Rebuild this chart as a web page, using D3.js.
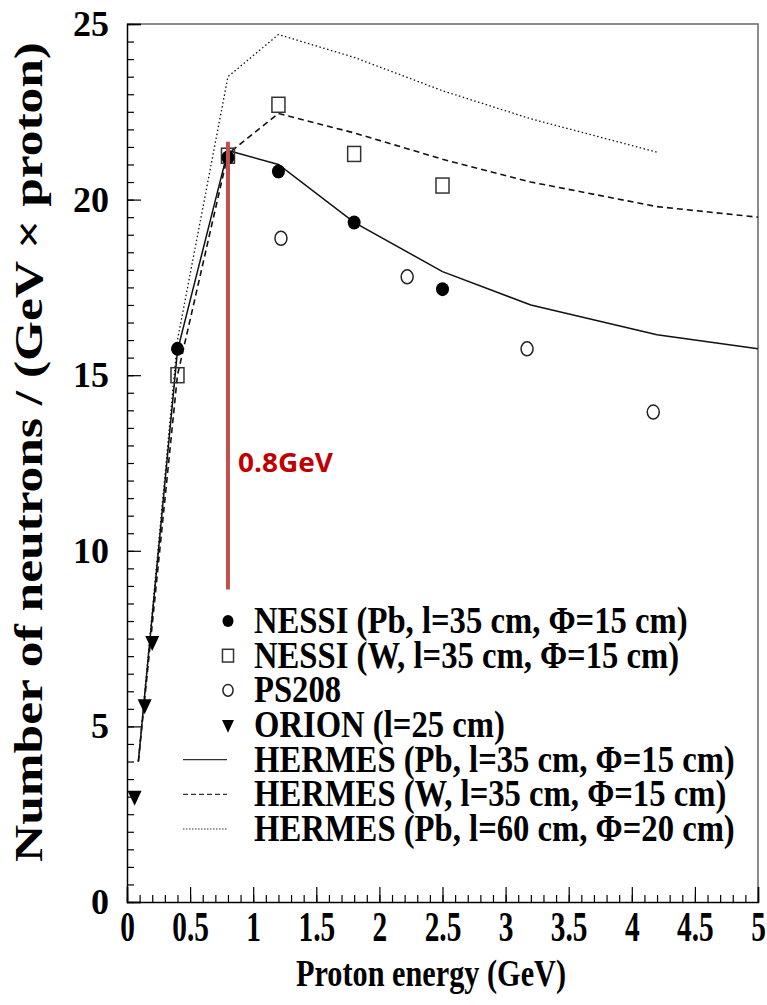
<!DOCTYPE html>
<html>
<head>
<meta charset="utf-8">
<script src="https://cdn.jsdelivr.net/npm/d3@7"></script>
<style>
  body { margin: 0; background: #fff; }
  svg { display: block; }
</style>
</head>
<body>
<svg id="chart" width="767" height="1005"></svg>
<script>
// measured data (GeV, neutrons per GeV per proton)
const nessiPb = [[0.4, 15.75], [0.8, 21.2], [1.2, 20.8], [1.8, 19.35], [2.5, 17.45]];
const nessiW = [[0.4, 15.0], [0.8, 21.25], [1.2, 22.7], [1.8, 21.3], [2.5, 20.4]];
const ps208 = [[1.22, 18.9], [2.22, 17.8], [3.17, 15.75], [4.17, 13.95]];
const orion = [[0.06, 3.0], [0.14, 5.6], [0.2, 7.4]];
const hermesPb35 = [[0.09, 4.0], [0.4, 15.7], [0.8, 21.4], [1.2, 21.0], [1.8, 19.35], [2.5, 17.95], [3.2, 17.0], [4.2, 16.15], [5.0, 15.75]];
const hermesW35 = [[0.09, 4.0], [0.4, 15.0], [0.8, 21.3], [1.2, 22.45], [1.8, 21.9], [2.5, 21.15], [3.2, 20.5], [4.2, 19.8], [5.0, 19.5]];
const hermesPb60 = [[0.09, 4.0], [0.4, 16.0], [0.8, 23.5], [1.2, 24.7], [1.8, 24.05], [2.5, 23.1], [3.2, 22.3], [4.2, 21.35]];
const cutEnergy = 0.8;
const cutRange = [8.9, 21.65];

const xMajor = d3.range(0, 5.01, 0.5);
const xMinor = d3.range(0, 5.01, 0.1);
const yMajor = [0, 5, 10, 15, 20, 25];
const yMinor = d3.range(0, 25.01, 0.5);

const legendItems = [
  { label: "NESSI (Pb, l=35 cm, \u03A6=15 cm)", mark: "dot" },
  { label: "NESSI (W, l=35 cm, \u03A6=15 cm)", mark: "square" },
  { label: "PS208", mark: "ring" },
  { label: "ORION (l=25 cm)", mark: "tri" },
  { label: "HERMES (Pb, l=35 cm, \u03A6=15 cm)", mark: "solid" },
  { label: "HERMES (W, l=35 cm, \u03A6=15 cm)", mark: "dashed" },
  { label: "HERMES (Pb, l=60 cm, \u03A6=20 cm)", mark: "dotted" }
];

const serif = "'Liberation Serif', 'Times New Roman', Times, serif";

const svg = d3.select("#chart");
const mLeft = 127, mRight = 758, mTop = 24, mBottom = 902;

const x = d3.scaleLinear().domain([0, 5]).range([mLeft, mRight]);
const y = d3.scaleLinear().domain([0, 25]).range([mBottom, mTop]);

// frame
svg.append("path")
  .attr("d", `M${mLeft},${mTop}H${mRight}V${mBottom}`)
  .attr("fill", "none").attr("stroke", "#666").attr("stroke-width", 1.5);

// minor ticks
svg.append("g").attr("transform", `translate(0,${mBottom})`)
  .call(d3.axisBottom(x).tickValues(xMinor).tickSize(-7).tickFormat(""))
  .call(g => g.select(".domain").remove());
svg.append("g").attr("transform", `translate(${mLeft},0)`)
  .call(d3.axisLeft(y).tickValues(yMinor).tickSize(-7).tickFormat(""))
  .call(g => g.select(".domain").remove());

// major ticks + labels
const xAxis = svg.append("g").attr("transform", `translate(0,${mBottom})`)
  .call(d3.axisBottom(x).tickValues(xMajor).tickSize(-15).tickPadding(9).tickFormat(d3.format("")));
xAxis.selectAll("text")
  .style("font-family", serif).style("font-weight", "bold")
  .style("font-size", "42px").attr("fill", "#000")
  .attr("transform", "scale(0.7,1)");

const yAxis = svg.append("g").attr("transform", `translate(${mLeft},0)`)
  .call(d3.axisLeft(y).tickValues(yMajor).tickSize(-14).tickPadding(18));
yAxis.selectAll("text")
  .style("font-family", serif).style("font-weight", "bold")
  .style("font-size", "36px").attr("fill", "#000");

svg.selectAll(".domain").attr("stroke-width", 1.5);
svg.selectAll(".tick line").attr("stroke-width", 1.2);

// axis titles
svg.append("text")
  .attr("transform", `translate(42,452) rotate(-90)`)
  .attr("text-anchor", "middle")
  .style("font-family", serif).style("font-weight", "bold").style("font-size", "40px")
  .attr("textLength", 820).attr("lengthAdjust", "spacingAndGlyphs")
  .text("Number of neutrons / (GeV \u00D7 proton)");

svg.append("text")
  .attr("x", 431).attr("y", 986)
  .attr("text-anchor", "middle")
  .style("font-family", serif).style("font-weight", "bold").style("font-size", "38px")
  .attr("textLength", 270).attr("lengthAdjust", "spacingAndGlyphs")
  .text("Proton energy (GeV)");

// HERMES curves
const line = d3.line().x(d => x(d[0])).y(d => y(d[1]));
const curves = [
  { data: hermesPb35, dash: null, w: 1.5 },
  { data: hermesW35, dash: "6,4", w: 1.6 },
  { data: hermesPb60, dash: "1.5,2.5", w: 1.3 }
];
svg.selectAll("path.curve").data(curves).enter().append("path")
  .attr("class", "curve")
  .attr("d", d => line(d.data))
  .attr("fill", "none").attr("stroke", "#111")
  .attr("stroke-width", d => d.w)
  .attr("stroke-dasharray", d => d.dash);

// marker drawing
function drawMark(g, type, size) {
  const s = size || 1;
  if (type === "dot") {
    g.append("ellipse").attr("rx", 6.5 * s).attr("ry", 7 * s).attr("fill", "#000");
  } else if (type === "ring") {
    g.append("ellipse").attr("rx", 6 * s).attr("ry", 7 * s)
      .attr("fill", "#fff").attr("stroke", "#222").attr("stroke-width", 1.5);
  } else if (type === "square") {
    g.append("rect").attr("x", -6.5 * s).attr("y", -7.5 * s)
      .attr("width", 13 * s).attr("height", 15 * s)
      .attr("fill", "none").attr("stroke", "#333").attr("stroke-width", 1.5);
  } else if (type === "tri") {
    g.append("path")
      .attr("d", `M${-7 * s},${-6 * s}L${7 * s},${-6 * s}L0,${9 * s}Z`)
      .attr("fill", "#000");
  }
}

const markSets = [
  { data: nessiW, type: "square" },
  { data: ps208, type: "ring" },
  { data: orion, type: "tri" },
  { data: nessiPb, type: "dot" }
];
markSets.forEach(set => {
  svg.selectAll(null).data(set.data).enter().append("g")
    .attr("transform", d => `translate(${x(d[0])},${y(d[1])})`)
    .each(function () { drawMark(d3.select(this), set.type); });
});

// 0.8 GeV marker
svg.append("line")
  .attr("x1", x(cutEnergy)).attr("x2", x(cutEnergy))
  .attr("y1", y(cutRange[1])).attr("y2", y(cutRange[0]))
  .attr("stroke", "#c0504d").attr("stroke-width", 4);
svg.append("text")
  .attr("x", x(cutEnergy) + 10).attr("y", 472)
  .style("font-family", "'Open Sans', sans-serif").style("font-weight", "bold")
  .style("font-size", "27px").attr("fill", "#c00000")
  .attr("textLength", 95).attr("lengthAdjust", "spacingAndGlyphs")
  .text("0.8GeV");

// legend: one condensed block, rows 34.7px apart
const legend = svg.append("g");
const rowY = d3.scaleLinear().domain([0, 6]).range([621, 829]);
legendItems.forEach((item, i) => {
  const g = legend.append("g").attr("transform", `translate(0,${rowY(i)})`);
  if (["solid", "dashed", "dotted"].includes(item.mark)) {
    g.append("line").attr("x1", 183).attr("x2", 227)
      .attr("stroke", "#333").attr("stroke-width", item.mark === "solid" ? 1.4 : 1.2)
      .attr("stroke-dasharray", item.mark === "dashed" ? "5,3" : item.mark === "dotted" ? "1.5,1.5" : null);
  } else {
    const m = g.append("g").attr("transform", "translate(228,0)");
    drawMark(m, item.mark, 0.85);
  }
  g.append("text")
    .attr("transform", "translate(254,12) scale(0.86,1)")
    .style("font-family", serif).style("font-weight", "bold").style("font-size", "38px")
    .text(item.label);
});
</script>
</body>
</html>
